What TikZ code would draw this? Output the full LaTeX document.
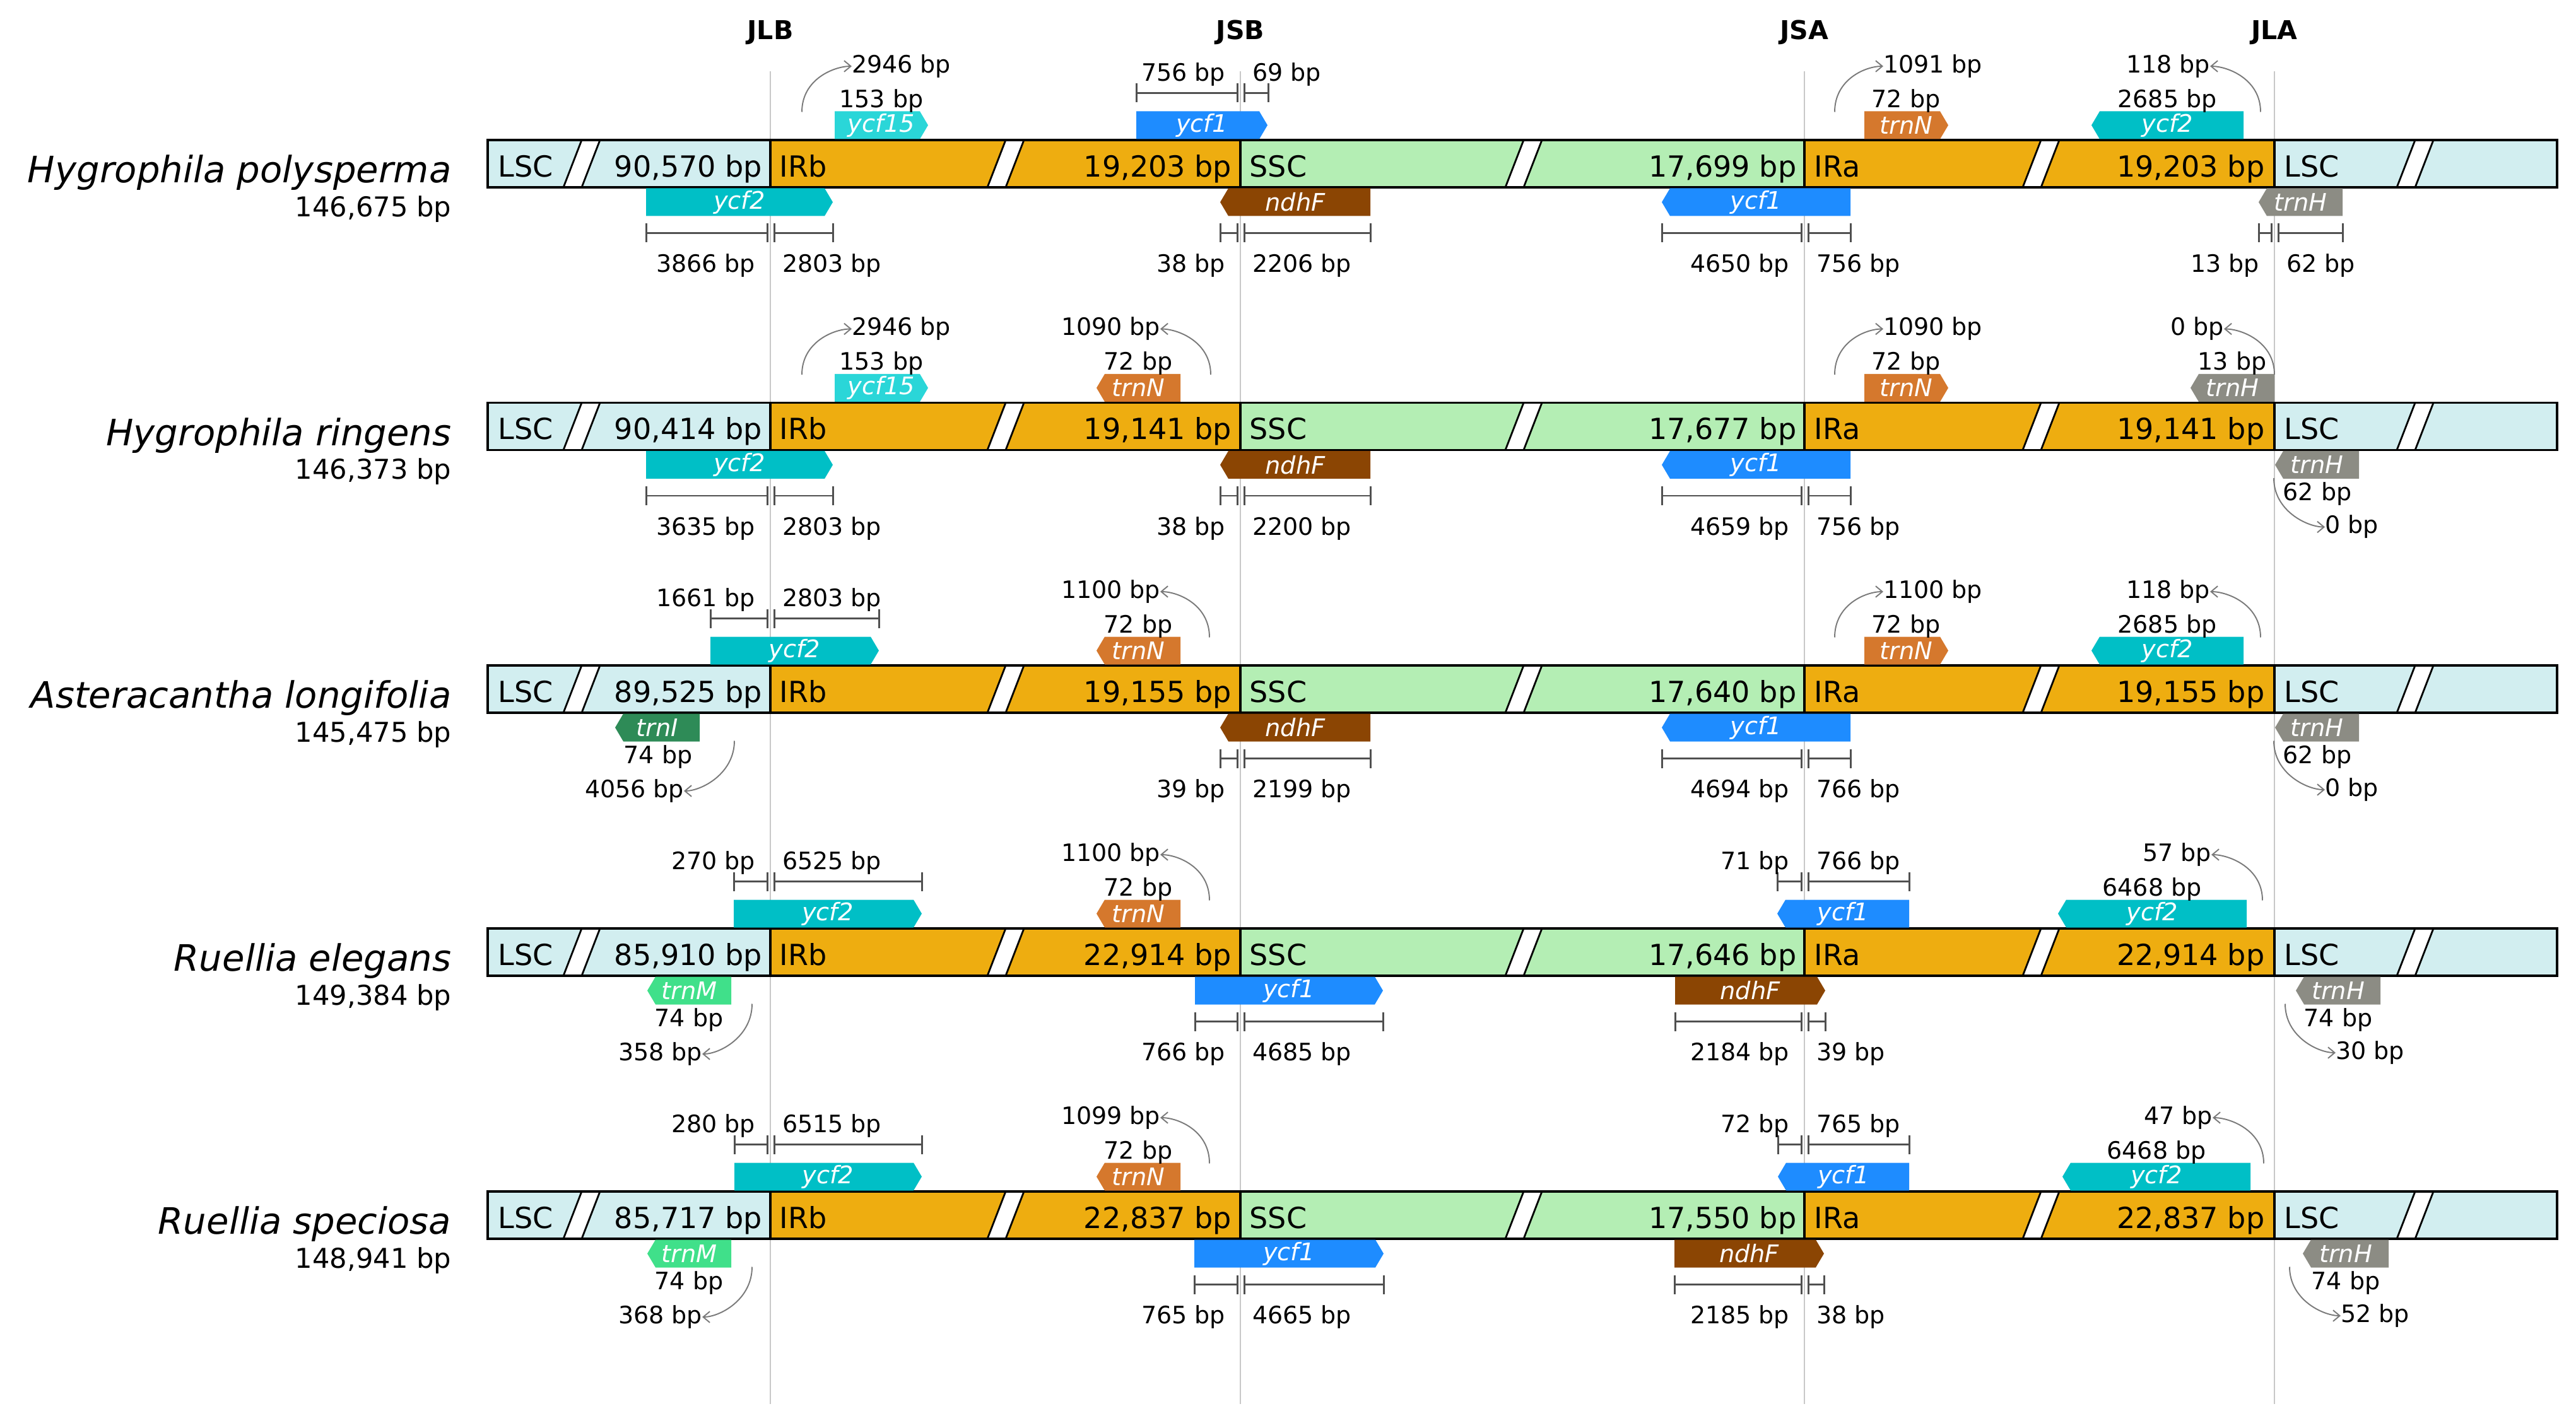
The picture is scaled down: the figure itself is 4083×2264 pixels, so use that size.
\documentclass[tikz,border=0pt]{standalone}
\usepackage{fontspec}
\setmainfont{DejaVu Sans}
\usetikzlibrary{arrows.meta}
\definecolor{lscc}{HTML}{D2EEF0}
\definecolor{irc}{HTML}{EEAD10}
\definecolor{sscc}{HTML}{B4EEB4}
\definecolor{cycf2}{HTML}{00BFC6}
\definecolor{cycf15}{HTML}{2AD6D8}
\definecolor{cycf1}{HTML}{1E8CFF}
\definecolor{cndhF}{HTML}{8B4503}
\definecolor{ctrnN}{HTML}{D5782D}
\definecolor{ctrnH}{HTML}{8C8C84}
\definecolor{ctrnI}{HTML}{2E8B57}
\definecolor{ctrnM}{HTML}{40E08A}
\definecolor{measgray}{HTML}{505050}
\definecolor{arrgray}{HTML}{7A7A7A}
\definecolor{jgray}{HTML}{C8C8C8}
\tikzset{
 lab/.style={font=\fontsize{10.8pt}{13pt}\selectfont, inner sep=0pt, outer sep=0pt, text=black},
 gtext/.style={font=\fontsize{10.9pt}{13pt}\selectfont\itshape, text=white, inner sep=0pt},
 blab/.style={font=\fontsize{13.1pt}{15pt}\selectfont, inner sep=0pt},
 namef/.style={font=\fontsize{16.4pt}{19pt}\selectfont\itshape, inner sep=0pt},
 lenf/.style={font=\fontsize{12.3pt}{15pt}\selectfont, inner sep=0pt},
 jlab/.style={font=\fontsize{11.7pt}{14pt}\selectfont\bfseries, inner sep=0pt},
 meas/.style={draw=measgray, line width=0.85pt},
 carrow/.style={draw=arrgray, line width=0.55pt, -{Straight Barb[length=3pt,width=5pt]}},
 jline/.style={draw=jgray, line width=0.6pt},
 barline/.style={draw=black, line width=1pt},
}
% right-pointing gene: name, x1, x2, top y, colour, text
\newcommand\GR[6]{%
  \fill[#5] (#2,#4) -- ({#3-13},#4) -- (#3,{#4+22}) -- ({#3-13},{#4+44}) -- (#2,{#4+44}) -- cycle;
  \node[gtext] (#1) at ({(#2+#3)/2},{#4+22}) {#6};}
% left-pointing gene
\newcommand\GL[6]{%
  \fill[#5] (#2,{#4+22}) -- ({#2+13},#4) -- (#3,#4) -- (#3,{#4+44}) -- ({#2+13},{#4+44}) -- cycle;
  \node[gtext] (#1) at ({(#2+#3)/2},{#4+22}) {#6};}
% measure pair at a junction: name, J, x1, x2, ybar, ylab, left text, right text
\newcommand\MJ[8]{%
  \draw[meas] (#3,{#5-15}) -- (#3,{#5+15}) (#3,#5) -- ({#2-5},#5) ({#2-5},{#5-15}) -- ({#2-5},{#5+15});
  \draw[meas] ({#2+6},{#5-15}) -- ({#2+6},{#5+15}) ({#2+6},#5) -- (#4,#5) (#4,{#5-15}) -- (#4,{#5+15});
  \node[lab,anchor=base east] (#1l) at ({#2-24},#6) {#7};
  \node[lab,anchor=base west] (#1r) at ({#2+19},#6) {#8};}
% curved arrows
\newcommand\CUR[3]{\coordinate (#1) at (#2,-82);
  \draw[carrow] (#1) .. controls +(0,-52) and +(-28,0) .. (#3.west);}
\newcommand\CUL[3]{\coordinate (#1) at (#2,-82);
  \draw[carrow] (#1) .. controls +(0,-52) and +(28,0) .. (#3.east);}
\newcommand\CDR[3]{\coordinate (#1) at (#2,82);
  \draw[carrow] (#1) .. controls +(0,52) and +(-28,0) .. (#3.west);}
\newcommand\CDL[3]{\coordinate (#1) at (#2,82);
  \draw[carrow] (#1) .. controls +(0,52) and +(28,0) .. (#3.east);}
% bar: prefix, LSC len, IRb len, SSC len, IRa len
\newcommand\DrawBar[5]{%
  \fill[lscc] (773,-37.5) rectangle (1221,37.5);
  \fill[irc] (1221,-37.5) rectangle (1966,37.5);
  \fill[sscc] (1966,-37.5) rectangle (2860,37.5);
  \fill[irc] (2860,-37.5) rectangle (3605,37.5);
  \fill[lscc] (3605,-37.5) rectangle (4053,37.5);
  \foreach \s in {922,1594,2415,3235,3828} {
    \fill[white] (\s-29,37.5) -- (\s,37.5) -- (\s+29,-37.5) -- (\s,-37.5) -- cycle;
    \draw[line width=0.8pt] (\s-29,37.5) -- (\s,-37.5) (\s,37.5) -- (\s+29,-37.5);
  }
  \draw[barline] (773,-37.5) rectangle (4053,37.5);
  \draw[barline] (1221,-37.5) -- (1221,37.5) (1966,-37.5) -- (1966,37.5)
     (2860,-37.5) -- (2860,37.5) (3605,-37.5) -- (3605,37.5);
  \node[blab,anchor=base west] (#1s1) at (789,21) {LSC};
  \node[blab,anchor=base east] (#1s2) at (1209,21) {#2};
  \node[blab,anchor=base west] (#1s3) at (1235,21) {IRb};
  \node[blab,anchor=base east] (#1s4) at (1953,21) {#3};
  \node[blab,anchor=base west] (#1s5) at (1980,21) {SSC};
  \node[blab,anchor=base east] (#1s6) at (2848,21) {#4};
  \node[blab,anchor=base west] (#1s7) at (2875,21) {IRa};
  \node[blab,anchor=base east] (#1s8) at (3590,21) {#5};
  \node[blab,anchor=base west] (#1s9) at (3620,21) {LSC};}
\begin{document}
\begin{tikzpicture}[x=0.01cm,y=-0.01cm]
\useasboundingbox (0,0) rectangle (4083,2264);
\fill[white] (0,0) rectangle (4083,2264);
% junction lines and labels
\coordinate (jat) at (1221,113); \coordinate (jab) at (1221,2226);
\coordinate (jbt) at (1966,113); \coordinate (jbb) at (1966,2226);
\coordinate (jct) at (2860,113); \coordinate (jcb) at (2860,2226);
\coordinate (jdt) at (3605,113); \coordinate (jdb) at (3605,2226);
\draw[jline] (jat) -- (jab); \draw[jline] (jbt) -- (jbb);
\draw[jline] (jct) -- (jcb); \draw[jline] (jdt) -- (jdb);
\node[jlab,anchor=base] (JLB) at (1221,63) {JLB};
\node[jlab,anchor=base] (JSB) at (1966,63) {JSB};
\node[jlab,anchor=base] (JSA) at (2860,63) {JSA};
\node[jlab,anchor=base] (JLA) at (3605,63) {JLA};

% ---------------- Row 1
\begin{scope}[shift={(0,259.5)}]
 \node[namef,anchor=base east] (n1) at (716,30) {Hygrophila polysperma};
 \node[lenf,anchor=base east] (g1) at (716,84) {146,675 bp};
 \DrawBar{a}{90,570 bp}{19,203 bp}{17,699 bp}{19,203 bp}
 \GR{a1}{1323}{1471}{-83}{cycf15}{ycf15}
 \node[lab,anchor=base] (a1l) at (1397,-89) {153 bp};
 \node[lab,anchor=base west] (a1c) at (1350,-144) {2946 bp};
 \CUR{a1s}{1271}{a1c}
 \GR{a2}{1801}{2009}{-83}{cycf1}{ycf1}
 \MJ{a2m}{1966}{1801}{2010}{-112}{-131}{756 bp}{69 bp}
 \GR{a3}{2955}{3088}{-83}{ctrnN}{trnN}
 \node[lab,anchor=base] (a3l) at (3021,-89) {72 bp};
 \node[lab,anchor=base west] (a3c) at (2985,-144) {1091 bp};
 \CUR{a3s}{2908}{a3c}
 \GL{a4}{3315}{3556}{-83}{cycf2}{ycf2}
 \node[lab,anchor=base] (a4l) at (3435,-89) {2685 bp};
 \node[lab,anchor=base east] (a4c) at (3503,-144) {118 bp};
 \CUL{a4s}{3583}{a4c}
 \GR{a5}{1024}{1320}{39}{cycf2}{ycf2}
 \MJ{a5m}{1221}{1024}{1320}{110}{172}{3866 bp}{2803 bp}
 \GL{a6}{1934}{2172}{39}{cndhF}{ndhF}
 \MJ{a6m}{1966}{1934}{2172}{110}{172}{38 bp}{2206 bp}
 \GL{a7}{2634}{2933}{39}{cycf1}{ycf1}
 \MJ{a7m}{2860}{2634}{2933}{110}{172}{4650 bp}{756 bp}
 \GL{a8}{3580}{3713}{39}{ctrnH}{trnH}
 \MJ{a8m}{3605}{3580}{3713}{110}{172}{13 bp}{62 bp}
\end{scope}

% ---------------- Row 2
\begin{scope}[shift={(0,676)}]
 \node[namef,anchor=base east] (n2) at (716,30) {Hygrophila ringens};
 \node[lenf,anchor=base east] (g2) at (716,84) {146,373 bp};
 \DrawBar{b}{90,414 bp}{19,141 bp}{17,677 bp}{19,141 bp}
 \GR{b1}{1323}{1471}{-83}{cycf15}{ycf15}
 \node[lab,anchor=base] (b1l) at (1397,-89) {153 bp};
 \node[lab,anchor=base west] (b1c) at (1350,-144) {2946 bp};
 \CUR{b1s}{1271}{b1c}
 \GL{b2}{1738}{1871}{-83}{ctrnN}{trnN}
 \node[lab,anchor=base] (b2l) at (1804,-89) {72 bp};
 \node[lab,anchor=base east] (b2c) at (1839,-144) {1090 bp};
 \CUL{b2s}{1919}{b2c}
 \GR{b3}{2955}{3088}{-83}{ctrnN}{trnN}
 \node[lab,anchor=base] (b3l) at (3021,-89) {72 bp};
 \node[lab,anchor=base west] (b3c) at (2985,-144) {1090 bp};
 \CUR{b3s}{2908}{b3c}
 \GL{b4}{3472}{3605}{-83}{ctrnH}{trnH}
 \node[lab,anchor=base] (b4l) at (3538,-89) {13 bp};
 \node[lab,anchor=base east] (b4c) at (3525,-144) {0 bp};
 \CUL{b4s}{3605}{b4c}
 \GR{b5}{1024}{1320}{39}{cycf2}{ycf2}
 \MJ{b5m}{1221}{1024}{1320}{110}{172}{3635 bp}{2803 bp}
 \GL{b6}{1934}{2172}{39}{cndhF}{ndhF}
 \MJ{b6m}{1966}{1934}{2172}{110}{172}{38 bp}{2200 bp}
 \GL{b7}{2634}{2933}{39}{cycf1}{ycf1}
 \MJ{b7m}{2860}{2634}{2933}{110}{172}{4659 bp}{756 bp}
 \GL{b8}{3606}{3739}{39}{ctrnH}{trnH}
 \node[lab,anchor=base] (b8l) at (3673,118) {62 bp};
 \node[lab,anchor=base west] (b8c) at (3685,170) {0 bp};
 \CDR{b8s}{3604}{b8c}
\end{scope}

% ---------------- Row 3
\begin{scope}[shift={(0,1092.5)}]
 \node[namef,anchor=base east] (n3) at (716,30) {Asteracantha longifolia};
 \node[lenf,anchor=base east] (g3) at (716,84) {145,475 bp};
 \DrawBar{c}{89,525 bp}{19,155 bp}{17,640 bp}{19,155 bp}
 \GR{c1}{1126}{1393}{-83}{cycf2}{ycf2}
 \MJ{c1m}{1221}{1126}{1393}{-112}{-131}{1661 bp}{2803 bp}
 \GL{c2}{1738}{1871}{-83}{ctrnN}{trnN}
 \node[lab,anchor=base] (c2l) at (1804,-89) {72 bp};
 \node[lab,anchor=base east] (c2c) at (1839,-144) {1100 bp};
 \CUL{c2s}{1917}{c2c}
 \GR{c3}{2955}{3088}{-83}{ctrnN}{trnN}
 \node[lab,anchor=base] (c3l) at (3021,-89) {72 bp};
 \node[lab,anchor=base west] (c3c) at (2985,-144) {1100 bp};
 \CUR{c3s}{2908}{c3c}
 \GL{c4}{3315}{3556}{-83}{cycf2}{ycf2}
 \node[lab,anchor=base] (c4l) at (3435,-89) {2685 bp};
 \node[lab,anchor=base east] (c4c) at (3503,-144) {118 bp};
 \CUL{c4s}{3583}{c4c}
 \GL{c5}{975}{1109}{39}{ctrnI}{trnI}
 \node[lab,anchor=base] (c5l) at (1043,118) {74 bp};
 \node[lab,anchor=base east] (c5c) at (1084,172) {4056 bp};
 \CDL{c5s}{1164}{c5c}
 \GL{c6}{1934}{2172}{39}{cndhF}{ndhF}
 \MJ{c6m}{1966}{1934}{2172}{110}{172}{39 bp}{2199 bp}
 \GL{c7}{2634}{2933}{39}{cycf1}{ycf1}
 \MJ{c7m}{2860}{2634}{2933}{110}{172}{4694 bp}{766 bp}
 \GL{c8}{3606}{3739}{39}{ctrnH}{trnH}
 \node[lab,anchor=base] (c8l) at (3673,118) {62 bp};
 \node[lab,anchor=base west] (c8c) at (3685,170) {0 bp};
 \CDR{c8s}{3604}{c8c}
\end{scope}

% ---------------- Row 4
\begin{scope}[shift={(0,1509.5)}]
 \node[namef,anchor=base east] (n4) at (716,30) {Ruellia elegans};
 \node[lenf,anchor=base east] (g4) at (716,84) {149,384 bp};
 \DrawBar{d}{85,910 bp}{22,914 bp}{17,646 bp}{22,914 bp}
 \GR{d1}{1163}{1461}{-83}{cycf2}{ycf2}
 \MJ{d1m}{1221}{1163}{1461}{-112}{-131}{270 bp}{6525 bp}
 \GL{d2}{1738}{1871}{-83}{ctrnN}{trnN}
 \node[lab,anchor=base] (d2l) at (1804,-89) {72 bp};
 \node[lab,anchor=base east] (d2c) at (1839,-144) {1100 bp};
 \CUL{d2s}{1917}{d2c}
 \GL{d3}{2817}{3026}{-83}{cycf1}{ycf1}
 \MJ{d3m}{2860}{2817}{3026}{-112}{-131}{71 bp}{766 bp}
 \GL{d4}{3262}{3561}{-83}{cycf2}{ycf2}
 \node[lab,anchor=base] (d4l) at (3411,-89) {6468 bp};
 \node[lab,anchor=base east] (d4c) at (3505,-144) {57 bp};
 \CUL{d4s}{3586}{d4c}
 \GL{d5}{1026}{1159}{39}{ctrnM}{trnM}
 \node[lab,anchor=base] (d5l) at (1092,118) {74 bp};
 \node[lab,anchor=base east] (d5c) at (1113,172) {358 bp};
 \CDL{d5s}{1192}{d5c}
 \GR{d6}{1894}{2192}{39}{cycf1}{ycf1}
 \MJ{d6m}{1966}{1894}{2192}{110}{172}{766 bp}{4685 bp}
 \GR{d7}{2655}{2893}{39}{cndhF}{ndhF}
 \MJ{d7m}{2860}{2655}{2893}{110}{172}{2184 bp}{39 bp}
 \GL{d8}{3639}{3773}{39}{ctrnH}{trnH}
 \node[lab,anchor=base] (d8l) at (3706,118) {74 bp};
 \node[lab,anchor=base west] (d8c) at (3702,170) {30 bp};
 \CDR{d8s}{3622}{d8c}
\end{scope}

% ---------------- Row 5
\begin{scope}[shift={(0,1926.5)}]
 \node[namef,anchor=base east] (n5) at (716,30) {Ruellia speciosa};
 \node[lenf,anchor=base east] (g5) at (716,84) {148,941 bp};
 \DrawBar{e}{85,717 bp}{22,837 bp}{17,550 bp}{22,837 bp}
 \GR{e1}{1164}{1461}{-83}{cycf2}{ycf2}
 \MJ{e1m}{1221}{1164}{1461}{-112}{-131}{280 bp}{6515 bp}
 \GL{e2}{1738}{1871}{-83}{ctrnN}{trnN}
 \node[lab,anchor=base] (e2l) at (1804,-89) {72 bp};
 \node[lab,anchor=base east] (e2c) at (1839,-144) {1099 bp};
 \CUL{e2s}{1917}{e2c}
 \GL{e3}{2818}{3026}{-83}{cycf1}{ycf1}
 \MJ{e3m}{2860}{2818}{3026}{-112}{-131}{72 bp}{765 bp}
 \GL{e4}{3269}{3567}{-83}{cycf2}{ycf2}
 \node[lab,anchor=base] (e4l) at (3418,-89) {6468 bp};
 \node[lab,anchor=base east] (e4c) at (3507,-144) {47 bp};
 \CUL{e4s}{3588}{e4c}
 \GL{e5}{1026}{1159}{39}{ctrnM}{trnM}
 \node[lab,anchor=base] (e5l) at (1092,118) {74 bp};
 \node[lab,anchor=base east] (e5c) at (1113,172) {368 bp};
 \CDL{e5s}{1192}{e5c}
 \GR{e6}{1893}{2193}{39}{cycf1}{ycf1}
 \MJ{e6m}{1966}{1893}{2193}{110}{172}{765 bp}{4665 bp}
 \GR{e7}{2654}{2891}{39}{cndhF}{ndhF}
 \MJ{e7m}{2860}{2654}{2891}{110}{172}{2185 bp}{38 bp}
 \GL{e8}{3650}{3786}{39}{ctrnH}{trnH}
 \node[lab,anchor=base] (e8l) at (3718,118) {74 bp};
 \node[lab,anchor=base west] (e8c) at (3710,170) {52 bp};
 \CDR{e8s}{3629}{e8c}
\end{scope}
\end{tikzpicture}
\end{document}
